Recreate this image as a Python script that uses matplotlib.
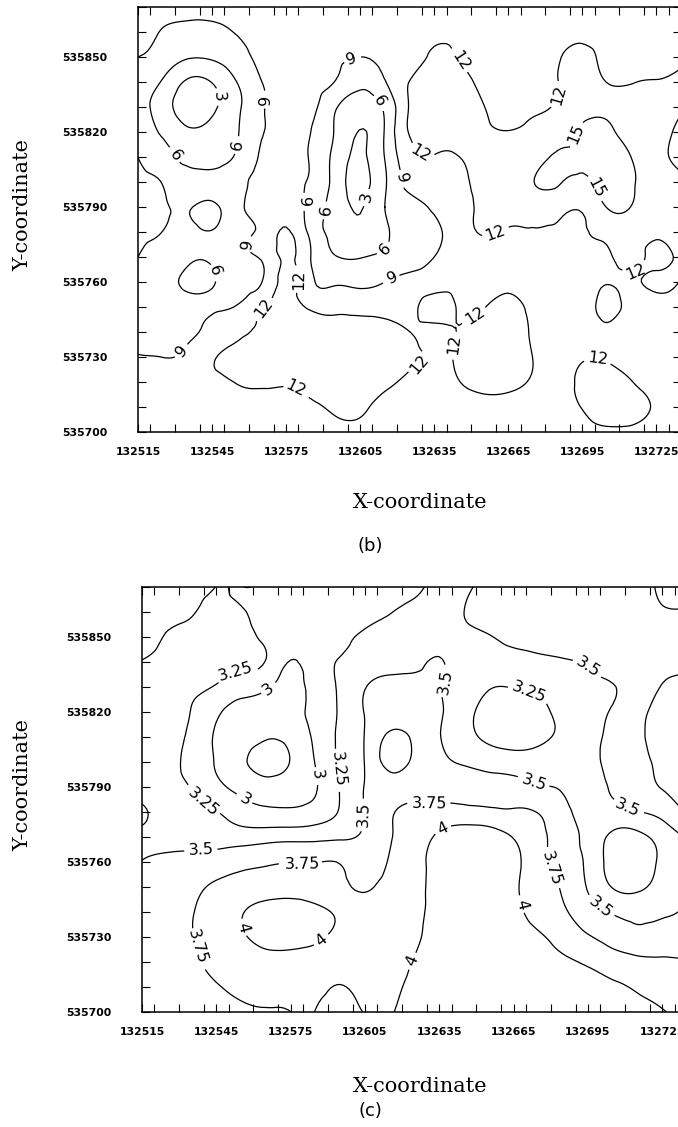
import numpy as np
import matplotlib
matplotlib.use("Agg")
import matplotlib.pyplot as plt
import matplotlib.tri as mtri
from matplotlib.ticker import MultipleLocator

# Grid node coordinates (10 m spacing)
x_nodes = [132515, 132525, 132535, 132545, 132555, 132565, 132575, 132585,
           132595, 132605, 132615, 132625, 132635, 132645, 132655, 132665,
           132675, 132685, 132695, 132705, 132715, 132725, 132735]
y_nodes = [535870, 535860, 535850, 535840, 535830, 535820, 535810, 535800,
           535790, 535780, 535770, 535760, 535750, 535740, 535730, 535720,
           535710, 535700]

x_ticks = [132515, 132545, 132575, 132605, 132635, 132665, 132695, 132725]
y_ticks = [535700, 535730, 535760, 535790, 535820, 535850]

# (b) estimated values at the grid nodes, rows from north to south
values_b = [
    [10.0, 9.8, 9.7, 9.7, 9.8, 10.0, 10.3, 10.3, 10.2, 10.0, 10.2, 10.5, 11.2, 11.3, 11.0, 10.8, 10.8, 11.0, 11.3, 11.2, 11.2, 11.2, 11.3],
    [9.6, 8.9, 8.5, 8.5, 9.1, 9.8, 10.2, 10.2, 9.8, 9.6, 9.9, 10.5, 11.5, 11.5, 11.2, 11.0, 11.0, 11.4, 11.6, 11.4, 11.3, 11.3, 11.5],
    [9.0, 7.8, 6.3, 6.4, 7.8, 9.7, 10.1, 9.8, 9.3, 9.0, 9.3, 10.5, 12.4, 11.95, 11.5, 11.2, 11.2, 11.8, 12.5, 11.6, 11.5, 11.5, 11.8],
    [7.5, 5.7, 2.6, 3.1, 6.0, 8.95, 10.0, 9.8, 8.9, 6.8, 8.8, 12.05, 12.8, 12.6, 11.6, 11.3, 11.3, 11.95, 13.0, 11.95, 11.9, 12.1, 12.6],
    [7.5, 4.3, 1.8, 2.5, 5.3, 8.7, 9.8, 9.7, 6.3, 4.5, 6.5, 12.2, 12.8, 12.6, 12.05, 11.3, 11.6, 12.3, 14.0, 14.2, 13.5, 13.2, 14.5],
    [7.6, 5.5, 3.3, 3.6, 5.7, 8.8, 9.6, 9.0, 5.7, 2.9, 6.2, 12.2, 12.8, 12.7, 12.3, 12.05, 12.5, 13.8, 15.3, 15.4, 14.2, 14.0, 15.8],
    [6.0, 7.0, 5.0, 4.6, 6.4, 9.3, 9.5, 8.8, 5.0, 2.6, 6.1, 11.0, 11.9, 11.98, 12.6, 12.6, 13.5, 15.4, 15.2, 16.0, 14.95, 14.4, 15.8],
    [5.2, 6.1, 7.2, 6.9, 8.3, 9.5, 9.4, 8.7, 4.8, 2.2, 5.6, 9.9, 10.8, 11.5, 12.4, 12.8, 14.9, 15.3, 14.5, 16.0, 15.3, 14.0, 14.3],
    [5.0, 5.6, 6.3, 5.5, 8.2, 9.9, 10.8, 8.0, 4.8, 2.8, 6.0, 7.9, 9.5, 11.2, 12.3, 12.3, 12.8, 13.0, 12.4, 15.1, 14.9, 13.3, 13.0],
    [5.3, 6.05, 6.9, 6.2, 8.4, 9.6, 12.3, 8.2, 5.0, 3.8, 5.5, 7.3, 8.3, 10.8, 12.1, 11.9, 11.95, 11.7, 11.8, 12.6, 13.0, 12.4, 12.8],
    [6.0, 7.5, 6.7, 6.6, 8.3, 9.4, 12.5, 9.0, 6.1, 5.9, 6.5, 7.5, 9.0, 10.6, 11.4, 11.3, 11.2, 11.3, 11.5, 11.8, 12.4, 11.6, 12.6],
    [7.8, 7.0, 5.4, 5.6, 7.8, 8.9, 13.0, 9.6, 8.6, 8.2, 9.0, 10.0, 10.8, 11.4, 11.3, 11.5, 11.2, 11.0, 11.3, 11.9, 11.8, 12.3, 11.9],
    [8.0, 7.8, 7.7, 8.3, 9.2, 11.6, 13.0, 11.7, 11.5, 11.3, 11.3, 11.4, 12.8, 11.8, 11.9, 12.5, 11.6, 11.0, 11.2, 12.4, 11.4, 11.2, 11.2],
    [8.3, 8.4, 8.7, 9.8, 11.4, 12.5, 13.5, 13.2, 12.8, 12.8, 12.6, 12.02, 11.5, 12.1, 12.8, 12.8, 11.8, 11.0, 11.0, 11.6, 11.0, 11.0, 11.0],
    [9.1, 8.98, 9.6, 11.7, 12.6, 13.2, 13.5, 13.5, 13.3, 13.1, 12.8, 12.4, 11.8, 12.2, 13.0, 12.9, 11.98, 11.3, 11.8, 11.8, 11.2, 11.0, 11.0],
    [9.7, 10.2, 10.8, 11.4, 12.1, 12.4, 12.2, 12.6, 12.8, 12.6, 12.3, 11.6, 11.3, 11.95, 12.5, 12.4, 11.8, 11.4, 12.4, 12.8, 12.05, 11.4, 11.0],
    [10.0, 10.4, 10.8, 11.0, 11.2, 11.3, 11.6, 11.8, 12.2, 12.2, 11.6, 11.2, 11.0, 11.2, 11.5, 11.5, 11.3, 11.4, 12.05, 12.6, 12.5, 11.8, 11.0],
    [10.2, 10.4, 10.6, 10.8, 10.9, 11.0, 11.1, 11.3, 11.6, 11.6, 11.3, 11.0, 10.8, 10.9, 11.0, 11.0, 11.0, 11.1, 11.6, 11.8, 11.7, 11.4, 11.0],
]

# (c) estimated values at the grid nodes, rows from north to south
values_c = [
    [3.6, 3.57, 3.54, 3.49, 3.02, 3.1, 3.05, 3.05, 3.1, 3.12, 3.18, 3.22, 3.32, 3.45, 3.56, 3.58, 3.6, 3.6, 3.62, 3.64, 3.7, 3.77, 3.82],
    [3.58, 3.55, 3.52, 3.38, 3.28, 3.12, 3.05, 3.05, 3.1, 3.15, 3.24, 3.3, 3.38, 3.5, 3.57, 3.6, 3.62, 3.63, 3.65, 3.67, 3.7, 3.74, 3.74],
    [3.55, 3.49, 3.42, 3.35, 3.3, 3.2, 3.05, 3.1, 3.2, 3.29, 3.35, 3.4, 3.44, 3.46, 3.49, 3.55, 3.58, 3.6, 3.62, 3.65, 3.68, 3.7, 3.72],
    [3.495, 3.45, 3.38, 3.33, 3.29, 3.24, 2.99, 3.14, 3.26, 3.35, 3.42, 3.46, 3.51, 3.42, 3.4, 3.42, 3.45, 3.48, 3.52, 3.6, 3.66, 3.7, 3.72],
    [3.45, 3.36, 3.3, 3.23, 3.12, 3.04, 2.92, 3.1, 3.28, 3.49, 3.56, 3.55, 3.51, 3.42, 3.27, 3.26, 3.3, 3.38, 3.45, 3.49, 3.62, 3.76, 3.8],
    [3.42, 3.36, 3.24, 3.04, 2.9, 2.85, 2.9, 3.08, 3.28, 3.51, 3.6, 3.6, 3.52, 3.35, 3.15, 3.1, 3.18, 3.32, 3.42, 3.52, 3.68, 3.82, 3.85],
    [3.4, 3.33, 3.2, 2.97, 2.85, 2.77, 2.82, 3.05, 3.29, 3.51, 3.8, 3.7, 3.51, 3.34, 3.2, 3.15, 3.2, 3.3, 3.42, 3.56, 3.7, 3.84, 3.86],
    [3.4, 3.31, 3.18, 2.98, 2.8, 2.65, 2.76, 3.01, 3.28, 3.51, 3.82, 3.7, 3.55, 3.47, 3.4, 3.36, 3.35, 3.4, 3.45, 3.56, 3.68, 3.8, 3.85],
    [3.42, 3.34, 3.24, 3.07, 2.92, 2.85, 2.88, 2.98, 3.26, 3.51, 3.67, 3.68, 3.66, 3.66, 3.62, 3.6, 3.52, 3.48, 3.42, 3.53, 3.65, 3.76, 3.8],
    [3.52, 3.42, 3.33, 3.26, 3.12, 3.05, 3.04, 3.1, 3.27, 3.51, 3.72, 3.8, 3.82, 3.82, 3.8, 3.78, 3.74, 3.56, 3.44, 3.42, 3.49, 3.58, 3.78],
    [3.47, 3.44, 3.42, 3.4, 3.38, 3.4, 3.42, 3.43, 3.46, 3.55, 3.73, 3.88, 4.05, 4.15, 4.12, 3.99, 3.82, 3.63, 3.42, 3.2, 3.18, 3.35, 3.52],
    [3.505, 3.55, 3.58, 3.62, 3.68, 3.72, 3.74, 3.74, 3.74, 3.66, 3.77, 3.93, 4.08, 4.15, 4.15, 4.05, 3.85, 3.65, 3.45, 3.15, 3.1, 3.3, 3.45],
    [3.56, 3.63, 3.7, 3.78, 3.84, 3.88, 3.9, 3.88, 3.8, 3.73, 3.82, 3.94, 4.08, 4.15, 4.12, 4.03, 3.88, 3.72, 3.48, 3.24, 3.2, 3.35, 3.48],
    [3.6, 3.66, 3.74, 3.84, 3.98, 4.1, 4.12, 4.06, 3.95, 3.85, 3.88, 3.95, 4.08, 4.14, 4.12, 4.05, 3.92, 3.78, 3.62, 3.48, 3.44, 3.47, 3.52],
    [3.62, 3.68, 3.74, 3.84, 3.96, 4.1, 4.12, 4.05, 3.93, 3.88, 3.9, 3.97, 4.08, 4.15, 4.15, 4.1, 4.03, 3.9, 3.77, 3.65, 3.56, 3.6, 3.62],
    [3.64, 3.68, 3.72, 3.8, 3.87, 3.9, 3.9, 3.9, 3.92, 3.92, 3.94, 4.01, 4.1, 4.15, 4.18, 4.15, 4.1, 4.04, 3.97, 3.88, 3.82, 3.79, 3.77],
    [3.64, 3.67, 3.7, 3.74, 3.79, 3.82, 3.85, 3.92, 4.01, 3.94, 3.96, 4.04, 4.12, 4.15, 4.18, 4.18, 4.15, 4.11, 4.07, 4.03, 3.98, 3.93, 3.88],
    [3.62, 3.64, 3.67, 3.69, 3.71, 3.73, 3.745, 4.01, 4.08, 3.99, 3.98, 4.1, 4.15, 4.2, 4.2, 4.2, 4.18, 4.15, 4.12, 4.1, 4.06, 4.01, 3.95],
]

levels_b = [3, 6, 9, 12, 15]
levels_c = [3, 3.25, 3.5, 3.75, 4]
unlabelled_c = [2.75]

# where the contour values are written
label_spots_b = [
    (132547, 535834), (132554, 535815), (132531, 535811), (132567, 535833),
    (132560, 535775), (132545, 535764), (132532, 535733), (132602, 535848),
    (132612, 535832), (132583, 535792), (132589, 535789), (132608, 535794),
    (132620, 535801), (132614, 535774), (132618, 535762), (132645, 535848),
    (132685, 535835), (132630, 535812), (132660, 535779), (132716, 535765),
    (132693, 535819), (132699, 535797), (132577, 535761), (132567, 535749),
    (132629, 535727), (132578, 535716), (132652, 535746), (132642, 535735),
    (132701, 535727),
]
label_spots_c = [
    (132553, 535836), (132567, 535828), (132586, 535795), (132592, 535797),
    (132556, 535784), (132540, 535784), (132604, 535779), (132636, 535832),
    (132670, 535824), (132695, 535838), (132631, 535786), (132673, 535791),
    (132712, 535784), (132539, 535765), (132580, 535760), (132556, 535734),
    (132586, 535730), (132537, 535726), (132637, 535772), (132679, 535757),
    (132669, 535743), (132700, 535742), (132625, 535720),
]

W, H = 678, 1127
fig = plt.figure(figsize=(W / 100, H / 100), dpi=100)
fig.patch.set_facecolor("white")

def px_box(left, right, top, bottom):
    return [left / W, 1 - bottom / H, (right - left) / W, (bottom - top) / H]

ax_b = fig.add_axes(px_box(138, 681, 7, 432))
ax_c = fig.add_axes(px_box(142, 687, 587, 1012))

gx, gy = np.meshgrid(np.array(x_nodes, float), np.array(y_nodes, float))

def draw_panel(ax, values, levels, spots, extra_levels=()):
    z = np.array(values, float)
    tri = mtri.Triangulation(gx.ravel(), gy.ravel())
    refiner = mtri.UniformTriRefiner(tri)
    tri_f, z_f = refiner.refine_field(z.ravel(), subdiv=3)
    cs = ax.tricontour(tri_f, z_f, levels=levels, colors="black",
                       linewidths=0.9)
    if extra_levels:
        ax.tricontour(tri_f, z_f, levels=list(extra_levels), colors="black",
                      linewidths=0.9)
    ax.clabel(cs, manual=spots, inline=True, inline_spacing=4,
              fontsize=11.5, fmt=lambda v: f"{v:g}")

    ax.set_xlim(132515, 132735)
    ax.set_ylim(535700, 535870)
    ax.set_xticks(x_ticks, [str(t) for t in x_ticks])
    ax.set_yticks(y_ticks, [str(t) for t in y_ticks])
    ax.xaxis.set_minor_locator(MultipleLocator(10))
    ax.yaxis.set_minor_locator(MultipleLocator(10))
    ax.tick_params(which="both", direction="in", length=6, width=0.8,
                   top=True, right=True, colors="black")
    ax.tick_params(axis="x", which="major", pad=11)
    ax.tick_params(axis="y", which="major", pad=22)
    for lab in ax.get_xticklabels() + ax.get_yticklabels():
        lab.set_fontsize(7.8)
        lab.set_fontweight("bold")
        lab.set_family("DejaVu Sans")
    for sp in ax.spines.values():
        sp.set_linewidth(1.1)

draw_panel(ax_b, values_b, levels_b, label_spots_b)
draw_panel(ax_c, values_c, levels_c, label_spots_c, unlabelled_c)

serif = dict(family="DejaVu Serif", fontsize=15)
fig.text(23 / W, 1 - 205 / H, "Y-coordinate", rotation=90,
         ha="center", va="center", **serif)
fig.text(23 / W, 1 - 785 / H, "Y-coordinate", rotation=90,
         ha="center", va="center", **serif)
fig.text(420 / W, 1 - 503 / H, "X-coordinate", ha="center", va="center", **serif)
fig.text(420 / W, 1 - 1087 / H, "X-coordinate", ha="center", va="center", **serif)
fig.text(370 / W, 1 - 546 / H, "(b)", ha="center", va="center",
         family="DejaVu Sans", fontsize=13)
fig.text(370 / W, 1 - 1111 / H, "(c)", ha="center", va="center",
         family="DejaVu Sans", fontsize=13)

fig.savefig("out.png", dpi=100)
